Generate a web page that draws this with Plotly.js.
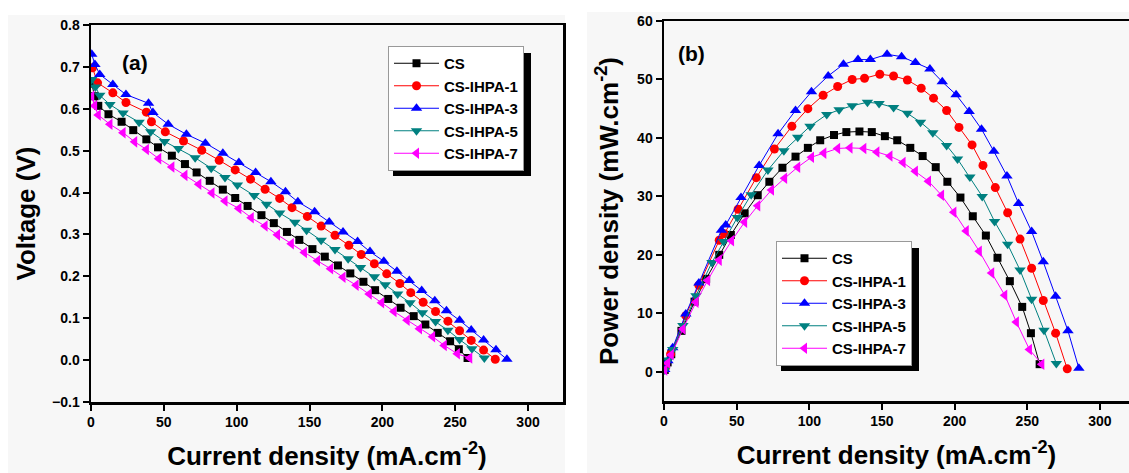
<!DOCTYPE html>
<html>
<head>
<meta charset="utf-8">
<script src="https://cdn.plot.ly/plotly-3.0.1.min.js"></script>
<style>html,body{margin:0;padding:0;background:#fff;}#chart{width:1129px;height:473px;}</style>
</head>
<body>
<div id="chart"></div>
<script>
// ---- Data ----
var seriesNames = ["CS", "CS-IHPA-1", "CS-IHPA-3", "CS-IHPA-5", "CS-IHPA-7"];

// CS
var csI = [0.5, 2.5, 5, 12, 21, 29, 38, 46, 55.5, 64.5, 72.5, 81.5, 90.5, 99, 107.5, 117, 125.5, 134.5, 143, 152, 160.5, 169.5, 178, 187, 195, 204, 212.5, 221.5, 229.5, 238, 246.5, 252.5, 258.5];
var csV = [0.66, 0.63, 0.607, 0.587, 0.569, 0.549, 0.527, 0.508, 0.488, 0.468, 0.448, 0.428, 0.407, 0.387, 0.368, 0.346, 0.327, 0.306, 0.287, 0.265, 0.247, 0.226, 0.207, 0.187, 0.167, 0.146, 0.125, 0.105, 0.085, 0.065, 0.045, 0.026, 0.005];
var csP = [0.3, 1.6, 3.0, 7.0, 12.0, 15.9, 20.0, 23.4, 27.1, 30.2, 32.5, 34.9, 36.8, 38.3, 39.6, 40.5, 41.0, 41.1, 41.0, 40.3, 39.6, 38.3, 36.9, 35.0, 32.5, 29.8, 26.6, 23.3, 19.5, 15.5, 11.1, 6.6, 1.3];

// CS-IHPA-1
var h1I = [1, 4.5, 15, 24, 38, 41.5, 51, 63.5, 76, 88, 99, 109.5, 119.5, 129.5, 138, 148.5, 158, 167.5, 177, 185.5, 194.5, 203, 212, 219.5, 228, 236.5, 245, 253, 261, 269.5, 277.5];
var h1V = [0.698, 0.662, 0.638, 0.615, 0.592, 0.569, 0.545, 0.523, 0.501, 0.477, 0.454, 0.432, 0.408, 0.386, 0.364, 0.343, 0.320, 0.298, 0.274, 0.252, 0.230, 0.206, 0.183, 0.161, 0.138, 0.116, 0.093, 0.070, 0.047, 0.024, 0.002];
var h1P = [0.7, 3.0, 9.6, 14.8, 22.5, 23.6, 27.8, 33.2, 38.1, 42.0, 45.0, 47.3, 48.8, 50.0, 50.2, 50.9, 50.6, 49.9, 48.5, 46.8, 44.7, 41.8, 38.8, 35.3, 31.5, 27.2, 22.7, 17.7, 12.2, 6.6, 0.5];

// CS-IHPA-3
var h3I = [0.5, 2.7, 6, 15, 24, 39.5, 42.5, 53, 65.5, 78.5, 90.5, 101.5, 113, 123.5, 133.5, 142, 153.5, 163.5, 173, 183, 191.5, 201, 210, 218.5, 227, 236, 244, 253, 261, 269.5, 278, 285.5];
var h3V = [0.73, 0.706, 0.682, 0.658, 0.634, 0.613, 0.591, 0.563, 0.539, 0.518, 0.494, 0.472, 0.448, 0.426, 0.402, 0.378, 0.354, 0.33, 0.306, 0.283, 0.259, 0.236, 0.212, 0.19, 0.166, 0.142, 0.118, 0.095, 0.072, 0.048, 0.025, 0.002];
var h3P = [0.4, 1.9, 4.1, 9.9, 15.2, 24.2, 25.1, 29.8, 35.3, 40.7, 44.7, 47.9, 50.6, 52.6, 53.4, 53.4, 54.3, 53.9, 52.9, 51.8, 49.6, 47.4, 44.5, 41.5, 37.7, 33.5, 28.8, 24.0, 18.8, 12.9, 7.0, 0.6];

// CS-IHPA-5
var h5I = [0.5, 3, 6, 13, 22, 33, 41, 50.5, 60, 71.5, 82.5, 92, 100.5, 112, 120.5, 129.5, 140, 148, 158, 167.5, 176.5, 185, 194.5, 202, 210.5, 219, 227.5, 236.5, 245, 253, 261.5, 270];
var h5V = [0.67, 0.652, 0.632, 0.61, 0.59, 0.568, 0.545, 0.522, 0.505, 0.483, 0.458, 0.436, 0.418, 0.393, 0.372, 0.351, 0.329, 0.31, 0.286, 0.264, 0.242, 0.221, 0.199, 0.18, 0.158, 0.137, 0.113, 0.092, 0.071, 0.049, 0.027, 0.005];
var h5P = [0.3, 2.0, 3.8, 7.9, 13.0, 18.7, 22.3, 26.4, 30.3, 34.5, 37.8, 40.1, 42.0, 44.0, 44.8, 45.5, 46.1, 45.9, 45.2, 44.2, 42.7, 40.9, 38.7, 36.4, 33.3, 30.0, 25.7, 21.8, 17.4, 12.4, 7.1, 1.4];

// CS-IHPA-7
var h7I = [0.5, 2.5, 5, 13, 22, 30, 38, 46.5, 55.5, 64.5, 74, 83, 92, 101.5, 110, 119.5, 128, 137.5, 146.5, 155.5, 164.5, 173, 182, 191, 199.5, 208, 217, 225.5, 234.5, 242.5, 251.5, 260];
var h7V = [0.63, 0.607, 0.585, 0.563, 0.543, 0.521, 0.503, 0.481, 0.461, 0.441, 0.42, 0.399, 0.38, 0.362, 0.34, 0.32, 0.299, 0.278, 0.257, 0.237, 0.218, 0.198, 0.179, 0.158, 0.137, 0.116, 0.095, 0.075, 0.056, 0.035, 0.015, 0.005];
var h7P = [0.3, 1.5, 2.9, 7.3, 11.9, 15.6, 19.1, 22.4, 25.6, 28.4, 31.1, 33.1, 35.0, 36.7, 37.4, 38.2, 38.3, 38.2, 37.6, 36.9, 35.8, 34.3, 32.6, 30.2, 27.3, 24.1, 20.6, 16.9, 13.1, 8.5, 3.8, 1.3];

var xTicks = [0, 50, 100, 150, 200, 250, 300];
var vTicks = [-0.1, 0.0, 0.1, 0.2, 0.3, 0.4, 0.5, 0.6, 0.7, 0.8];
var pTicks = [0, 10, 20, 30, 40, 50, 60];

// ---- Styles ----
var W = 1129, H = 473;
function px(x) { return x / W; }
function py(y) { return 1 - y / H; }

var styles = [
  {color: "#000000", symbol: "square", size: 8},
  {color: "#ff0000", symbol: "circle", size: 9},
  {color: "#0000ff", symbol: "triangle-up", size: 10},
  {color: "#008080", symbol: "triangle-down", size: 10},
  {color: "#ff00ff", symbol: "triangle-left", size: 10}
];
var Is = [csI, h1I, h3I, h5I, h7I];
var Vs = [csV, h1V, h3V, h5V, h7V];
var Ps = [csP, h1P, h3P, h5P, h7P];

var traces = [];
for (var i = 0; i < 5; i++) {
  traces.push({
    x: Is[i], y: Vs[i], xaxis: "x", yaxis: "y", legend: "legend",
    name: seriesNames[i], type: "scatter", mode: "lines+markers",
    line: {color: styles[i].color, width: 1},
    marker: {color: styles[i].color, symbol: styles[i].symbol, size: styles[i].size}
  });
}
for (var j = 0; j < 5; j++) {
  traces.push({
    x: Is[j], y: Ps[j], xaxis: "x2", yaxis: "y2", legend: "legend2",
    name: seriesNames[j], type: "scatter", mode: "lines+markers",
    line: {color: styles[j].color, width: 1},
    marker: {color: styles[j].color, symbol: styles[j].symbol, size: styles[j].size}
  });
}

var FONT = "Liberation Sans, Arial, Helvetica, sans-serif";
var tickFont = {family: FONT, size: 14, color: "#000", weight: "bold"};
var titleFont = {family: FONT, size: 26, color: "#000", weight: "bold"};
var legFont = {family: FONT, size: 15, color: "#000", weight: "bold"};

function axisBase() {
  return {
    showline: true, linecolor: "#000", linewidth: 2.5, mirror: true,
    ticks: "outside", ticklen: 6, tickwidth: 2, tickcolor: "#000",
    showgrid: false, zeroline: false, tickfont: tickFont, automargin: false, fixedrange: true
  };
}

var xa = axisBase();
Object.assign(xa, {domain: [px(91), px(563)], anchor: "y", range: [0, 324], tickvals: xTicks,
  title: {text: "Current density (mA.cm<sup>-2</sup>)", font: titleFont, standoff: 18}});
var ya = axisBase();
Object.assign(ya, {domain: [py(402), py(25)], anchor: "x", range: [-0.1, 0.8], tickvals: vTicks, tickformat: ".1f",
  title: {text: "Voltage (V)", font: titleFont, standoff: 9}});
var xa2 = axisBase();
Object.assign(xa2, {domain: [px(664), 1], anchor: "y2", range: [0, 320], tickvals: xTicks,
  title: {text: "Current density (mA.cm<sup>-2</sup>)", font: titleFont, standoff: 18}});
var ya2 = axisBase();
Object.assign(ya2, {domain: [py(401), py(21)], anchor: "x2", range: [-5, 60], tickvals: pTicks,
  title: {text: "Power density (mW.cm<sup>-2</sup>)", font: titleFont, standoff: 11}});

// legend boxes (pixel positions) and their drop shadows
var legA = {x: 388, y: 46}, legB = {x: 776, y: 241};
var legW = 138, legH = 123, shX = 5, shY = 7;

var layout = {
  width: W, height: H,
  margin: {l: 0, r: 0, t: 0, b: 0, pad: 0},
  paper_bgcolor: "#ffffff",
  plot_bgcolor: "rgba(0,0,0,0)",
  xaxis: xa, yaxis: ya, xaxis2: xa2, yaxis2: ya2,
  showlegend: true,
  legend: {x: px(legA.x), y: py(legA.y), xanchor: "left", yanchor: "top", bgcolor: "#ffffff",
    bordercolor: "#999", borderwidth: 1, font: legFont, tracegroupgap: 0, itemwidth: 45},
  legend2: {x: px(legB.x), y: py(legB.y), xanchor: "left", yanchor: "top", bgcolor: "#ffffff",
    bordercolor: "#999", borderwidth: 1, font: legFont, tracegroupgap: 0, itemwidth: 45},
  shapes: [
    {type: "rect", xref: "paper", yref: "paper", x0: px(8), x1: px(565), y0: 0, y1: py(15),
      fillcolor: "#f7f7f7", line: {width: 0}, layer: "below"},
    {type: "rect", xref: "paper", yref: "paper", x0: px(587), x1: 1, y0: 0, y1: py(12),
      fillcolor: "#f7f7f7", line: {width: 0}, layer: "below"},
    {type: "rect", xref: "paper", yref: "paper",
      x0: px(legA.x + shX), x1: px(legA.x + legW + shX), y0: py(legA.y + legH + shY), y1: py(legA.y + shY),
      fillcolor: "#000", line: {width: 0}, layer: "above"},
    {type: "rect", xref: "paper", yref: "paper",
      x0: px(legB.x + shX), x1: px(legB.x + legW + shX), y0: py(legB.y + legH + shY), y1: py(legB.y + shY),
      fillcolor: "#000", line: {width: 0}, layer: "above"}
  ],
  annotations: [
    {text: "(a)", xref: "paper", yref: "paper", x: px(135), y: py(62), xanchor: "center", yanchor: "middle",
      showarrow: false, font: {family: FONT, size: 21, color: "#000", weight: "bold"}},
    {text: "(b)", xref: "paper", yref: "paper", x: px(691), y: py(54), xanchor: "center", yanchor: "middle",
      showarrow: false, font: {family: FONT, size: 21, color: "#000", weight: "bold"}}
  ]
};

Plotly.newPlot("chart", traces, layout, {displayModeBar: false, staticPlot: true});
</script>
</body>
</html>
